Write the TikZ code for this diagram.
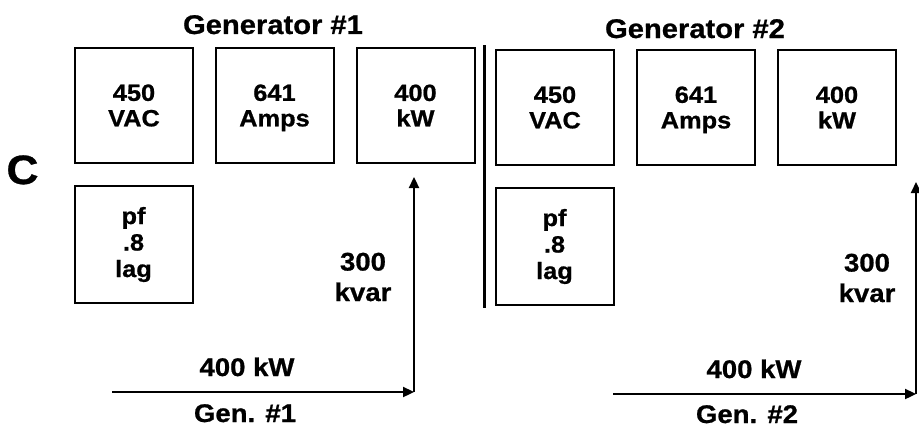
\documentclass[tikz,border=0pt]{standalone}
\usepackage{fontspec}
\setmainfont{Liberation Sans}[FakeStretch=1.08,BoldFeatures={FakeBold=0.8}]
\usetikzlibrary{arrows.meta}
\begin{document}
\begin{tikzpicture}[x=1pt,y=-1pt,
  box/.style={draw,line width=2pt,minimum width=118pt,minimum height=115pt,inner sep=0pt,align=center,
    font=\fontsize{23.5}{25.5}\selectfont\bfseries},
  pfbox/.style={box,minimum height=117pt,font=\fontsize{23.5}{26.5}\selectfont\bfseries},
  title/.style={anchor=base,inner sep=0pt,font=\fontsize{27}{30}\selectfont\bfseries},
  lbl/.style={anchor=base,inner sep=0pt,font=\fontsize{25.5}{27}\selectfont\bfseries},
  vlbl/.style={inner sep=0pt,align=center,font=\fontsize{25.5}{30.5}\selectfont\bfseries},
  vec/.style={line width=2.3pt,-{Triangle[length=11pt,width=10pt]}},
  divider/.style={line width=3pt}]
\useasboundingbox (0,0) rectangle (919,431);
% label C
\node[anchor=base,inner sep=0pt,font=\fontsize{41}{44}\selectfont\bfseries] (C) at (22.5,184) {C};
% Generator 1
\node[title] (t1) at (273,34) {Generator \#1};
\node[box] (v1) at (134,105.5) {450\\VAC};
\node[box] (a1) at (274.5,105.5) {641\\Am\smash{p}s};
\node[box] (k1) at (415.5,105.5) {400\\kW};
\node[pfbox] (p1) at (133.5,244.5) {pf\\.8\\lag};
\coordinate (o1) at (112,392);
\coordinate (c1) at (414,392);
\coordinate (e1) at (414,177);
\draw[vec] (o1) -- (c1);
\draw[vec] (c1) -- (e1);
\node[vlbl] (q1) at (363,277) {300\\kvar};
\node[lbl] (w1) at (247,376) {400 kW};
\node[lbl] (g1) at (245,422) {Gen. \#1};
% divider
\coordinate (d1) at (484.5,45);
\coordinate (d2) at (484.5,308);
\draw[divider] (d1) -- (d2);
% Generator 2
\node[title] (t2) at (695,38) {Generator \#2};
\node[box] (v2) at (555,107.5) {450\\VAC};
\node[box] (a2) at (696,107.5) {641\\Am\smash{p}s};
\node[box] (k2) at (837,107.5) {400\\kW};
\node[pfbox] (p2) at (554.5,246.5) {pf\\.8\\lag};
\coordinate (o2) at (613,394);
\coordinate (c2) at (916,394);
\coordinate (e2) at (916,182);
\draw[vec] (o2) -- (c2);
\draw[vec] (c2) -- (e2);
\node[vlbl] (q2) at (867,278) {300\\kvar};
\node[lbl] (w2) at (754,378) {400 kW};
\node[lbl] (g2) at (747,423) {Gen. \#2};
\end{tikzpicture}
\end{document}
